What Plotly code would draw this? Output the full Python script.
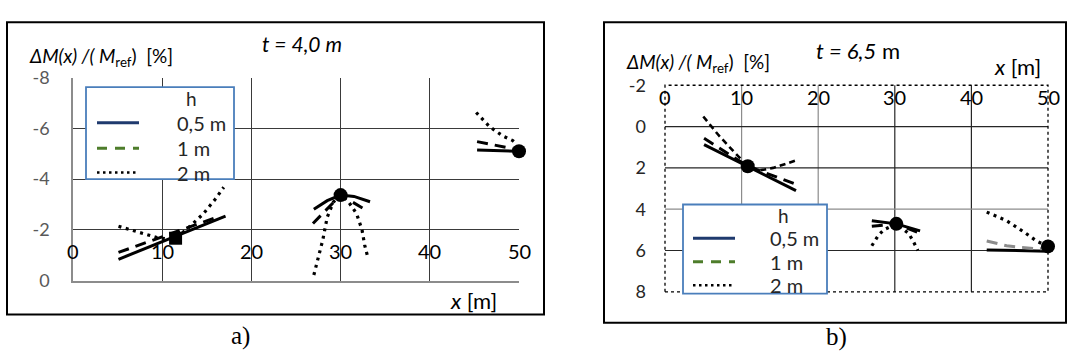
import plotly.graph_objects as go

W, H = 1073, 361

# ---------------- data: panel a (t = 4,0 m) ----------------
a_x_ticks = [0, 10, 20, 30, 40, 50]
a_y_ticks = [-8, -6, -4, -2, 0]

a_h05_g1_x = [5.1, 17.1];            a_h05_g1_y = [-0.84, -2.54]
a_h1_g1_x = [5.1, 15.9];             a_h1_g1_y = [-1.11, -2.47]
a_h2_g1_x = [5.1, 7.1, 9.4, 10.5, 11.5, 12.9, 14.6, 15.9, 16.9]
a_h2_g1_y = [-2.14, -1.95, -1.7, -1.64, -1.67, -2.07, -2.63, -3.19, -3.68]

a_h05_g2_x = [27.0, 28.5, 30.0, 31.5, 33.3]; a_h05_g2_y = [-2.81, -3.15, -3.37, -3.32, -3.11]
a_h1_g2_x = [26.9, 30.0, 33.0];              a_h1_g2_y = [-2.25, -3.37, -2.75]
a_h2_g2_x = [27.0, 27.5, 28.0, 28.5, 29.2, 30.0, 30.9, 31.8, 32.4, 32.7, 33.1]
a_h2_g2_y = [-0.22, -0.96, -1.6, -2.5, -3.1, -3.37, -3.1, -2.63, -2.0, -1.4, -0.85]

a_h05_g3_x = [45.3, 50.0];           a_h05_g3_y = [-5.15, -5.1]
a_h1_g3_x = [45.3, 50.0];            a_h1_g3_y = [-5.48, -5.15]
a_h2_g3_x = [45.2, 46.7, 48.2, 49.3, 49.7]
a_h2_g3_y = [-6.63, -6.07, -5.7, -5.52, -5.4]

a_sq_x = [11.5];         a_sq_y = [-1.67]
a_dot_x = [30.0, 50.0];  a_dot_y = [-3.37, -5.1]

# ---------------- data: panel b (t = 6,5 m) ----------------
b_x_ticks = [0, 10, 20, 30, 40, 50]
b_y_ticks = [-2, 0, 2, 4, 6, 8]

b_h05_g1_x = [5.1, 10.8, 17.1];      b_h05_g1_y = [0.87, 1.92, 3.1]
b_h1_g1_x = [5.1, 10.8, 16.8];       b_h1_g1_y = [0.57, 1.92, 2.75]
b_h2_g1_x = [5.0, 7.0, 9.0, 10.8, 12.4, 14.1, 15.8, 17.2]
b_h2_g1_y = [-0.49, 0.42, 1.22, 1.92, 2.12, 2.0, 1.8, 1.62]

b_h05_g2_x = [27.0, 30.2, 33.3];     b_h05_g2_y = [4.56, 4.71, 5.05]
b_h1_g2_x = [27.0, 30.2, 33.3];      b_h1_g2_y = [4.83, 4.71, 5.17]
b_h2_g2_x = [27.0, 27.9, 28.6, 30.2, 31.8, 32.4, 33.0]
b_h2_g2_y = [5.77, 5.24, 4.99, 4.71, 5.17, 5.54, 6.0]

b_h05_g3_x = [42.0, 50.0];           b_h05_g3_y = [5.97, 6.03]
b_h1_g3_x = [42.0, 44.6, 48.5, 49.5]; b_h1_g3_y = [5.54, 5.77, 5.92, 5.9]
b_h2_g3_x = [42.0, 44.6, 46.8, 48.5, 50.0]
b_h2_g3_y = [4.14, 4.56, 5.09, 5.54, 5.8]

b_dot_x = [10.8, 30.2, 50.0];  b_dot_y = [1.92, 4.71, 5.8]

legend_title = "h"
legend_labels = ["0,5 m", "1 m", "2 m"]

# ---------------- helpers ----------------
def px(x):
    return x / W

def py(y):
    return 1 - y / H

FONT = "Lato, Open Sans, sans-serif"

fig = go.Figure()

def line(x, y, xa, ya, dash="solid", width=2.6, color="black"):
    fig.add_trace(go.Scatter(x=x, y=y, xaxis=xa, yaxis=ya, mode="lines",
                             line=dict(color=color, width=width, dash=dash),
                             showlegend=False, hoverinfo="skip", cliponaxis=False))

def marks(x, y, xa, ya, symbol="circle", size=13):
    fig.add_trace(go.Scatter(x=x, y=y, xaxis=xa, yaxis=ya, mode="markers",
                             marker=dict(color="black", size=size, symbol=symbol),
                             showlegend=False, hoverinfo="skip", cliponaxis=False))

DASH_A = "11px,7px"
DOT = "3px,4.5px"
SHORT = "6px,4px"

# panel a
for gx, gy in [(a_h05_g1_x, a_h05_g1_y), (a_h05_g2_x, a_h05_g2_y), (a_h05_g3_x, a_h05_g3_y)]:
    line(gx, gy, "x", "y", "solid", 3)
for gx, gy in [(a_h1_g1_x, a_h1_g1_y), (a_h1_g2_x, a_h1_g2_y), (a_h1_g3_x, a_h1_g3_y)]:
    line(gx, gy, "x", "y", DASH_A, 3)
for gx, gy in [(a_h2_g1_x, a_h2_g1_y), (a_h2_g2_x, a_h2_g2_y), (a_h2_g3_x, a_h2_g3_y)]:
    line(gx, gy, "x", "y", DOT, 3.2)
marks(a_sq_x, a_sq_y, "x", "y", "square", 13)
marks(a_dot_x, a_dot_y, "x", "y", "circle", 14)

# panel b
for gx, gy in [(b_h05_g1_x, b_h05_g1_y), (b_h05_g2_x, b_h05_g2_y), (b_h05_g3_x, b_h05_g3_y)]:
    line(gx, gy, "x2", "y2", "solid", 3)
line(b_h1_g1_x, b_h1_g1_y, "x2", "y2", DASH_A, 3)
line(b_h1_g2_x, b_h1_g2_y, "x2", "y2", DASH_A, 3)
line(b_h1_g3_x, b_h1_g3_y, "x2", "y2", DASH_A, 3, "#8c8c8c")
line(b_h2_g1_x, b_h2_g1_y, "x2", "y2", SHORT, 2.6)
line(b_h2_g2_x, b_h2_g2_y, "x2", "y2", DOT, 3.2)
line(b_h2_g3_x, b_h2_g3_y, "x2", "y2", DOT, 3.2)
marks(b_dot_x, b_dot_y, "x2", "y2", "circle", 14)

# ---------------- axes ----------------
ax_common = dict(showticklabels=False, ticks="", zeroline=False, fixedrange=True)
fig.update_layout(
    xaxis=dict(domain=[px(73), px(519)], range=[0, 50], tickvals=a_x_ticks,
               showgrid=True, gridcolor="#3a3a3a", gridwidth=1,
               showline=True, linecolor="#8c8c8c", linewidth=1.5, anchor="y", **ax_common),
    yaxis=dict(domain=[py(286), py(70)], range=[0, -8], tickvals=a_y_ticks,
               ticktext=[str(v) for v in a_y_ticks], showticklabels=True, ticks="",
               tickfont=dict(family=FONT, size=18, color="#595959"), ticklabelstandoff=18,
               showgrid=True, gridcolor="#3a3a3a", gridwidth=1, zeroline=False,
               showline=True, linecolor="#8c8c8c", linewidth=1.5, anchor="x", fixedrange=True),
    xaxis2=dict(domain=[px(665), px(1048)], range=[0, 50], tickvals=b_x_ticks,
                showgrid=False, showline=False, anchor="y2", **ax_common),
    yaxis2=dict(domain=[py(298), py(78)], range=[8, -2], tickvals=b_y_ticks,
                ticktext=[str(v) for v in b_y_ticks], showticklabels=True, ticks="",
                tickfont=dict(family=FONT, size=18, color="#262626"), ticklabelstandoff=18,
                showgrid=False, zeroline=False, showline=False, anchor="x2", fixedrange=True),
)

shapes = []
# panel b inner grid (solid) and dotted border
b_vgrid_colors = ["#8c8c8c", "#8c8c8c", "#262626", "#262626"]
for v, c in zip(b_x_ticks[1:-1], b_vgrid_colors):
    shapes.append(dict(type="line", xref="x2", yref="y2 domain", x0=v, x1=v, y0=0, y1=1,
                       line=dict(color=c, width=1.2), layer="below"))
b_hgrid_colors = ["#262626", "#262626", "#8c8c8c", "#262626"]
for v, c in zip(b_y_ticks[1:-1], b_hgrid_colors):
    shapes.append(dict(type="line", xref="x2 domain", yref="y2", x0=0, x1=1, y0=v, y1=v,
                       line=dict(color=c, width=1.2), layer="below"))
shapes.append(dict(type="rect", xref="x2 domain", yref="y2 domain", x0=0, x1=1, y0=0, y1=1,
                   line=dict(color="black", width=1.3, dash="dot"), layer="below"))

# outer frames
shapes.append(dict(type="rect", xref="paper", yref="paper", x0=px(7), x1=px(544), y0=py(322), y1=py(11),
                   line=dict(color="black", width=2)))
shapes.append(dict(type="rect", xref="paper", yref="paper", x0=px(604), x1=px(1066), y0=py(331), y1=py(11),
                   line=dict(color="black", width=2)))

annotations = []

def legend_box(x0, x1, y0, y1, hx, hy, sx0, sx1, tx, rows):
    shapes.append(dict(type="rect", xref="paper", yref="paper", x0=px(x0), x1=px(x1), y0=py(y1), y1=py(y0),
                       line=dict(color="#4a7ebb", width=1.8), fillcolor="white", layer="above"))
    annotations.append(dict(xref="paper", yref="paper", x=px(hx), y=py(hy), text=legend_title,
                            showarrow=False, xanchor="center", yanchor="middle",
                            font=dict(family=FONT, size=19, color="#262626")))
    styles = [("#1f3a6e", "solid", 3), ("#4e7d2b", "10px,8px", 3), ("black", "2.5px,3.5px", 2.5)]
    for ry, lab, (c, d, w) in zip(rows, legend_labels, styles):
        shapes.append(dict(type="line", xref="paper", yref="paper", x0=px(sx0), x1=px(sx1), y0=py(ry), y1=py(ry),
                           line=dict(color=c, width=w, dash=d), layer="above"))
        annotations.append(dict(xref="paper", yref="paper", x=px(tx), y=py(ry), text=lab,
                                showarrow=False, xanchor="left", yanchor="middle",
                                font=dict(family=FONT, size=20, color="#262626")))

legend_box(86, 234, 80, 178, 191, 92, 97, 139, 175, [118, 145, 171])
legend_box(683, 827, 205, 300, 783, 217, 693, 735, 768, [241, 266, 291])

# x tick labels inside the plots
for v in a_x_ticks:
    annotations.append(dict(xref="x", yref="y", x=v, y=-1.15, text=str(v), showarrow=False,
                            xanchor="center", yanchor="middle", font=dict(family=FONT, size=20, color="black")))
for v in b_x_ticks:
    annotations.append(dict(xref="x2", yref="y2", x=v, y=-1.43, text=str(v), showarrow=False,
                            xanchor="center", yanchor="middle", font=dict(family=FONT, size=20, color="black")))

ytitle = "<i>\u0394M(x) /( M</i><sub>ref</sub>)\u00a0\u00a0[%]"
txt = [
    (27, 48, "left", ytitle, 19),
    (624, 54, "left", ytitle, 19),
    (302, 34, "center", "<i>t = 4,0 m</i>", 21),
    (858, 41, "center", "<i>t = 6,5</i> m", 22),
    (448, 307, "left", "<i>x</i> [m]", 22),
    (992, 58, "left", "<i>x</i> [m]", 22),
]
for x, y, xa, t, s in txt:
    annotations.append(dict(xref="paper", yref="paper", x=px(x), y=py(y), text=t, showarrow=False,
                            xanchor=xa, yanchor="middle", font=dict(family=FONT, size=s, color="black")))
for x, y, t in [(240, 345, "a)"), (836, 346, "b)")]:
    annotations.append(dict(xref="paper", yref="paper", x=px(x), y=py(y), text=t, showarrow=False,
                            xanchor="center", yanchor="middle",
                            font=dict(family="Liberation Serif, serif", size=25, color="black")))

fig.update_layout(width=W, height=H, margin=dict(l=0, r=0, t=0, b=0),
                  paper_bgcolor="white", plot_bgcolor="white", showlegend=False,
                  shapes=shapes, annotations=annotations)

fig.write_html("out.html", config={"displayModeBar": False})
